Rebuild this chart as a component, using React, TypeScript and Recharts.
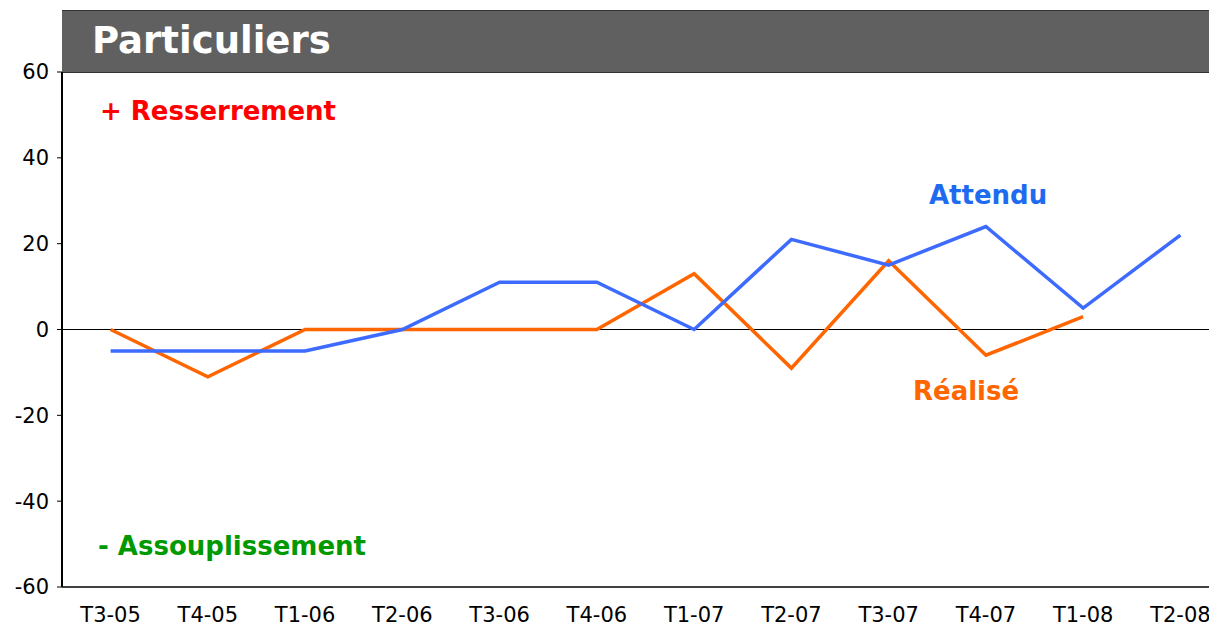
import React from 'react';
import { LineChart, Line, XAxis, YAxis, ReferenceLine } from 'recharts';

const quarters = ['T3-05', 'T4-05', 'T1-06', 'T2-06', 'T3-06', 'T4-06', 'T1-07', 'T2-07', 'T3-07', 'T4-07', 'T1-08', 'T2-08'];
const attendu = [-5, -5, -5, 0, 11, 11, 0, 21, 15, 24, 5, 22];
const realise = [0, -11, 0, 0, 0, 0, 13, -9, 16, -6, 3, null];
const yTicks = [-60, -40, -20, 0, 20, 40, 60];

const data = quarters.map((q, i) => ({ q, attendu: attendu[i], realise: realise[i] }));

const font = 'Verdana, "DejaVu Sans", sans-serif';

const note = (color: string, left: number, top: number, size = 26): React.CSSProperties => ({
  position: 'absolute',
  left,
  top,
  color,
  fontFamily: font,
  fontWeight: 'bold',
  fontSize: size,
  whiteSpace: 'nowrap',
  lineHeight: 1,
});

export default function App() {
  return (
    <div style={{ position: 'relative', width: 1209, height: 619, overflow: 'hidden', fontFamily: font }}>
      <div
        style={{
          position: 'absolute',
          left: 54,
          top: 2,
          width: 1160,
          height: 61,
          background: '#606060',
          borderTop: '1px solid #333',
          borderBottom: '1px solid #333',
        }}
      >
        <span style={{ position: 'absolute', left: 30, top: 11, color: '#fff', fontWeight: 'bold', fontSize: 37, lineHeight: 1 }}>
          Particuliers
        </span>
      </div>
      <LineChart width={1221} height={619} data={data} margin={{ top: 64, right: 0, left: 0, bottom: 10 }}>
        <XAxis
          dataKey="q"
          padding={{ left: 48.6, right: 48.6 }}
          axisLine={{ stroke: '#000', strokeWidth: 1.5 }}
          tickLine={false}
          tickMargin={14}
          height={30}
          tick={{ fill: '#000', fontSize: 21, fontFamily: font }}
        />
        <YAxis
          domain={[-60, 60]}
          ticks={yTicks}
          width={54}
          axisLine={{ stroke: '#000', strokeWidth: 2 }}
          tickLine={{ stroke: '#000' }}
          tickSize={5}
          tickMargin={8}
          tick={{ fill: '#000', fontSize: 21, fontFamily: font }}
        />
        <ReferenceLine y={0} stroke="#000" strokeWidth={1} />
        <Line dataKey="realise" stroke="#FF6600" strokeWidth={3.5} dot={false} isAnimationActive={false} />
        <Line dataKey="attendu" stroke="#3D6BFF" strokeWidth={3.5} dot={false} isAnimationActive={false} />
      </LineChart>
      <div style={note('#FF0000', 92, 90)}>+ Resserrement</div>
      <div style={note('#009900', 90, 525)}>- Assouplissement</div>
      <div style={note('#1F6BF0', 921, 174)}>Attendu</div>
      <div style={note('#FF6600', 905, 370)}>Réalisé</div>
    </div>
  );
}
